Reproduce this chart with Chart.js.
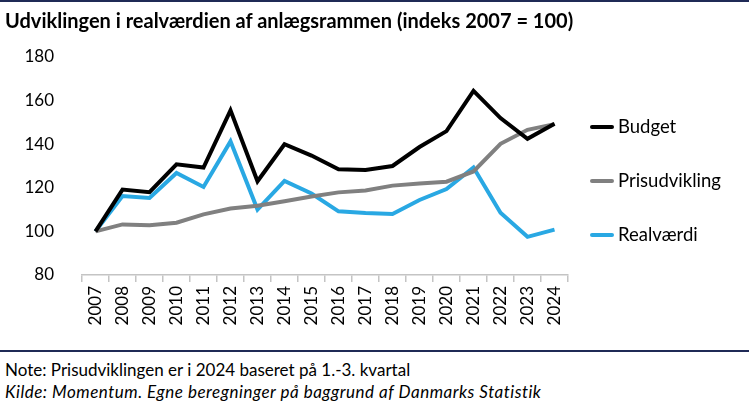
<!DOCTYPE html>
<html>
<head>
<meta charset="utf-8">
<script src="https://cdn.jsdelivr.net/npm/chart.js@4"></script>
<style>
  body { margin: 0; background: #fff; font-family: Lato, sans-serif; }
  #wrap { position: relative; width: 749px; height: 407px; overflow: hidden; }
  #topline { position: absolute; left: 0; top: 0; width: 749px; height: 2px; background: #1f2a56; }
  #title { position: absolute; left: 5px; top: 8px; font-size: 20px; font-weight: bold; color: #000; white-space: nowrap; }
  #chartbox { position: absolute; left: 0; top: 0; width: 749px; height: 348px; }
  #sep { position: absolute; left: 0; top: 350px; width: 749px; height: 2px; background: #1f2a56; }
  .note { position: absolute; left: 5px; font-size: 17px; color: #000; white-space: nowrap; }
</style>
</head>
<body>
<div id="wrap">
  <div id="topline"></div>
  <div id="chartbox"><canvas id="chart"></canvas></div>
  <div id="title">Udviklingen i realværdien af anlægsrammen (indeks 2007 = 100)</div>
  <div id="sep"></div>
  <div class="note" style="top:359px">Note: Prisudviklingen er i 2024 baseret på 1.-3. kvartal</div>
  <div class="note" style="top:381px; font-style:italic; letter-spacing:0.5px">Kilde: Momentum. Egne beregninger på baggrund af Danmarks Statistik</div>
</div>
<script>
const years = ['2007','2008','2009','2010','2011','2012','2013','2014','2015','2016','2017','2018','2019','2020','2021','2022','2023','2024'];
const budget = [100, 119.2, 118, 130.8, 129.3, 155.5, 123, 140, 134.8, 128.5, 128.2, 130, 138.7, 146, 164.5, 152, 142.5, 149.4];
const prisudvikling = [100, 103.2, 102.8, 104, 107.8, 110.5, 111.8, 113.8, 116, 117.9, 118.8, 121, 122, 122.8, 127.5, 140.2, 146.6, 149.2];
const realvaerdi = [100, 116.2, 115.3, 126.8, 120.4, 141.3, 110, 123.2, 117.4, 109.2, 108.4, 108, 114.4, 119.4, 129.3, 108.6, 97.5, 100.8];
const yTicks = [80, 100, 120, 140, 160, 180];

const fontFam = 'Lato, sans-serif';

const sideLegend = {
  id: 'sideLegend',
  afterDraw(chart) {
    const ctx = chart.ctx;
    const area = chart.chartArea;
    const x0 = area.right + 24;
    const gap = 54;
    const yStart = 127;
    ctx.save();
    ctx.font = '18.5px ' + fontFam;
    ctx.textBaseline = 'middle';
    chart.data.datasets.forEach((ds, i) => {
      const y = yStart + i * gap;
      ctx.strokeStyle = ds.borderColor;
      ctx.lineWidth = 4;
      ctx.lineCap = 'round';
      ctx.beginPath();
      ctx.moveTo(x0, y);
      ctx.lineTo(x0 + 20, y);
      ctx.stroke();
      ctx.fillStyle = '#000';
      ctx.fillText(ds.label, x0 + 26, y);
    });
    ctx.restore();
  }
};

const ctx = document.getElementById('chart');
new Chart(ctx, {
  type: 'line',
  data: {
    labels: years,
    datasets: [
      { label: 'Budget', data: budget, borderColor: '#000000', borderWidth: 4, pointRadius: 0, tension: 0 },
      { label: 'Prisudvikling', data: prisudvikling, borderColor: '#808080', borderWidth: 4, pointRadius: 0, tension: 0 },
      { label: 'Realværdi', data: realvaerdi, borderColor: '#29a8e3', borderWidth: 4, pointRadius: 0, tension: 0 }
    ]
  },
  options: {
    responsive: true,
    maintainAspectRatio: false,
    animation: false,
    layout: { padding: { top: 57, right: 181, left: 0, bottom: 0 } },
    plugins: {
      legend: { display: false },
      title: { display: false },
      tooltip: { enabled: false }
    },
    scales: {
      x: {
        offset: true,
        grid: { offset: true, drawOnChartArea: false, color: '#c4c4c4', tickLength: 7, lineWidth: 1.5 },
        border: { display: true, color: '#c4c4c4', width: 1.5 },
        ticks: { color: '#000', minRotation: 90, maxRotation: 90, padding: 4, font: { family: fontFam, size: 17 } },
        afterFit(scale) { scale.height = 73; }
      },
      y: {
        min: 80,
        max: 180,
        afterBuildTicks(scale) { scale.ticks = yTicks.map(v => ({ value: v })); },
        grid: { display: false },
        border: { display: false },
        ticks: { color: '#000', padding: 20, font: { family: fontFam, size: 17 } },
        afterFit(scale) { scale.width = 82; }
      }
    }
  },
  plugins: [sideLegend]
});
</script>
</body>
</html>
